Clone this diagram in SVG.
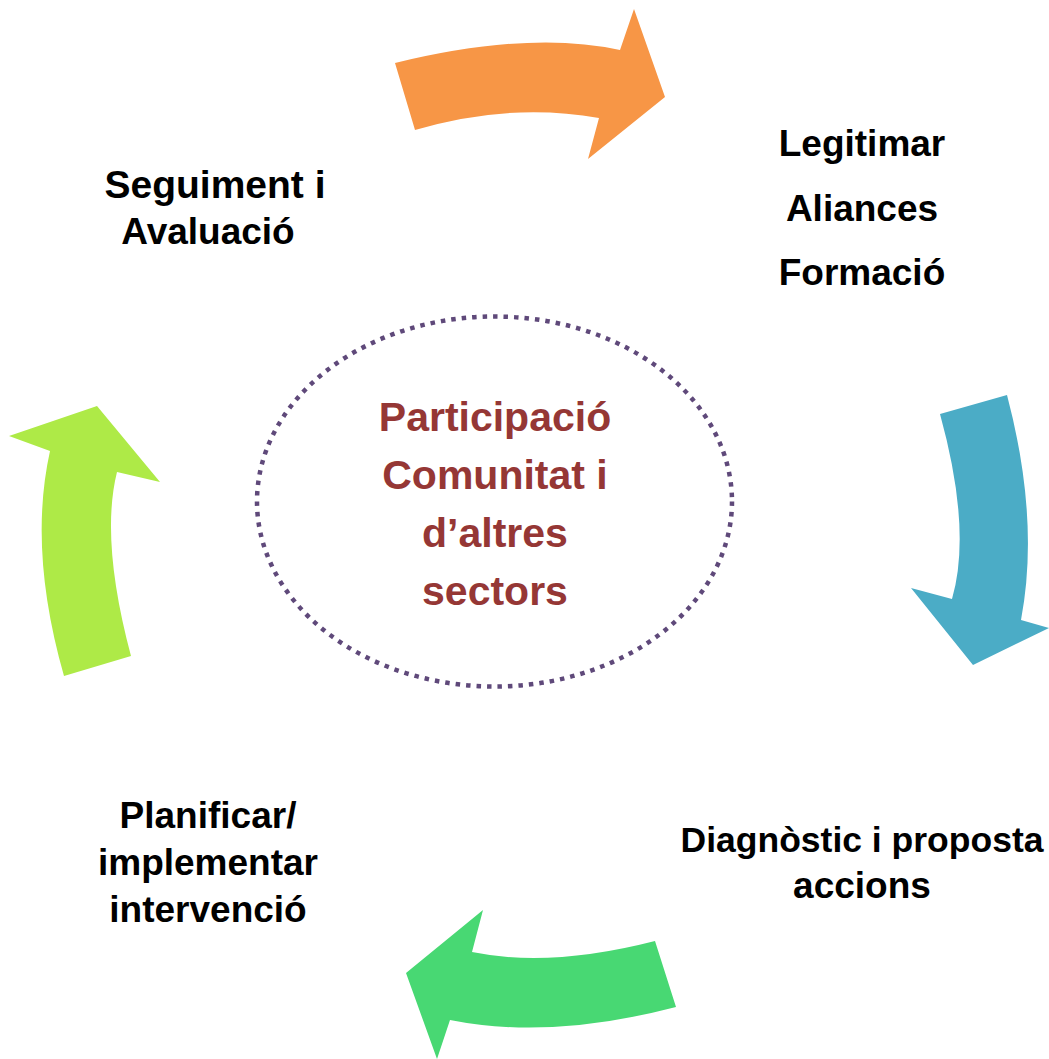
<svg xmlns="http://www.w3.org/2000/svg" width="1049" height="1059" viewBox="0 0 1049 1059">
<style>
.lbl{font-family:"Liberation Sans",Arial,sans-serif;font-weight:bold;font-size:37px;fill:#000;text-anchor:middle}
.ctr{font-family:"Liberation Sans",Arial,sans-serif;font-weight:bold;font-size:41px;fill:#953735;text-anchor:middle}
</style>
<rect width="1049" height="1059" fill="#fff"/>
<g id="connectors">
<path id="arrow-orange" d="M395,63 Q530,30 620,50 L634,9 L665,97 L588,159 L599,118 Q510,102 415,130 Z" fill="#F79646"/>
<path id="arrow-blue" d="M940,414 L1007,395 Q1040,520 1021,620 L1049,628 L973,665 L911,588 L952,599 Q972,530 940,414 Z" fill="#4BACC6"/>
<path id="arrow-green" d="M655,941 L676,1007 Q550,1040 450,1020 L437,1059 L406,973 L483,910 L472,952 Q550,968 655,941 Z" fill="#48D873"/>
<path id="arrow-lime" d="M64,676 L131,656 Q100,540 117,472 L160,482 L97,406 L9,436 L50,451 Q28,550 64,676 Z" fill="#AEEA47"/>
</g>
<g id="center">
<ellipse cx="494.5" cy="501.5" rx="237.5" ry="185" fill="none" stroke="#5F497A" stroke-width="4.5" stroke-dasharray="4.5 6"/>
<text class="ctr" x="495" y="431">Participació</text>
<text class="ctr" x="495" y="489">Comunitat i</text>
<text class="ctr" x="495" y="547">d’altres</text>
<text class="ctr" x="495" y="605">sectors</text>
</g>
<g id="legitimar">
<text class="lbl" x="862" y="156">Legitimar</text>
<text class="lbl" x="862" y="221">Aliances</text>
<text class="lbl" x="862" y="285">Formació</text>
</g>
<g id="diagnostic">
<text class="lbl" x="862" y="852" style="font-size:35.5px">Diagnòstic i proposta</text>
<text class="lbl" x="862" y="898">accions</text>
</g>
<g id="planificar">
<text class="lbl" x="208" y="828">Planificar/</text>
<text class="lbl" x="208" y="875">implementar</text>
<text class="lbl" x="208" y="922">intervenció</text>
</g>
<g id="seguiment">
<text class="lbl" x="215" y="198" style="font-size:39px">Seguiment i</text>
<text class="lbl" x="208" y="244">Avaluació</text>
</g>
</svg>
